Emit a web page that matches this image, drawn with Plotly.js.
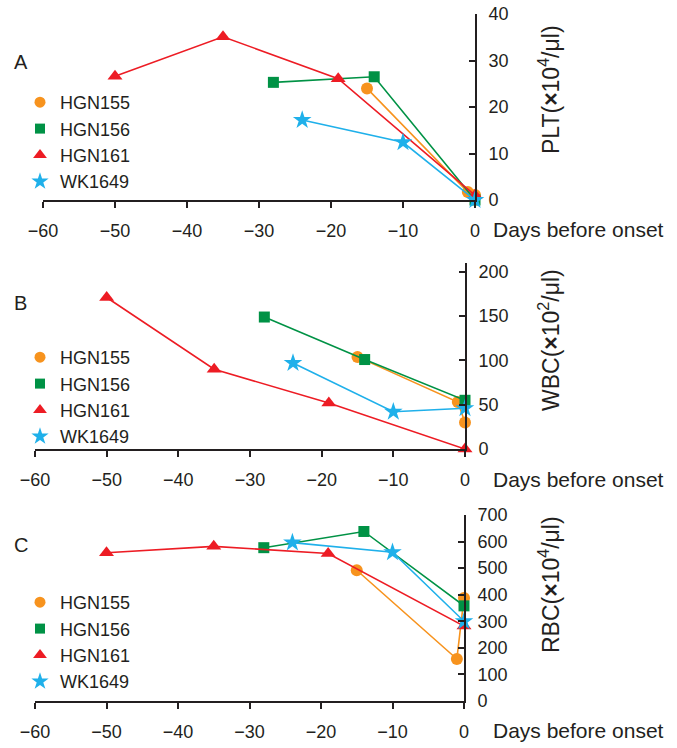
<!DOCTYPE html>
<html>
<head>
<meta charset="utf-8">
<script src="https://cdn.plot.ly/plotly-3.0.1.min.js"></script>
<style>
  html, body { margin: 0; padding: 0; background: #fff; }
  #chart { width: 677px; height: 748px; }
</style>
</head>
<body>
<div id="chart"></div>
<script>
// days before onset (x) and values for each patient, one set per panel
var names = ['HGN155', 'HGN156', 'HGN161', 'WK1649'];

// A: PLT (x10^4/ul)
var pltDays = [
  [-15, -1, 0],
  [-28, -14, 0],
  [-50, -35, -19, 0],
  [-24, -10, 0]
];
var pltVals = [
  [24.0, 1.7, 1.1],
  [25.3, 26.5, 0],
  [26.6, 35.1, 26.1, 1.0],
  [17.2, 12.4, 0]
];

// B: WBC (x10^2/ul)
var wbcDays = [
  [-15, -1, 0],
  [-28, -14, 0],
  [-50, -35, -19, 0],
  [-24, -10, 0]
];
var wbcVals = [
  [104, 53, 30],
  [149, 101, 55],
  [171, 90, 52, 0],
  [97, 42, 46]
];

// C: RBC (x10^4/ul)
var rbcDays = [
  [-15, -1, 0],
  [-28, -14, 0],
  [-50, -35, -19, 0],
  [-24, -10, 0]
];
var rbcVals = [
  [492, 158, 388],
  [577, 638, 358],
  [558, 582, 555, 282],
  [596, 560, 300]
];

var colors = ['#f7931e', '#009245', '#ed1c24', '#1fb0ea'];
var symbols = ['circle', 'square', 'triangle-up', 'star'];
var sizes = [12, 11, 13, 14];

var fontFam = '"Liberation Sans", Arial, sans-serif';
var ink = '#231f20';

var traces = [];
function addPanel(days, vals, n) {
  var sfx = n === 1 ? '' : String(n);
  for (var i = 0; i < names.length; i++) {
    traces.push({
      x: days[i], y: vals[i],
      xaxis: 'x' + sfx, yaxis: 'y' + sfx,
      type: 'scatter', mode: 'lines+markers',
      line: {color: colors[i], width: 1.6},
      marker: {color: colors[i], symbol: symbols[i], size: sizes[i]},
      cliponaxis: false,
      showlegend: false,
      hoverinfo: 'skip'
    });
  }
  // legend entries (markers only)
  for (var j = 0; j < names.length; j++) {
    traces.push({
      x: [null], y: [null],
      xaxis: 'x' + sfx, yaxis: 'y' + sfx,
      type: 'scatter', mode: 'markers', name: names[j],
      marker: {color: colors[j], symbol: symbols[j], size: sizes[j] - 1},
      legend: n === 1 ? 'legend' : 'legend' + n,
      showlegend: true
    });
  }
}
addPanel(pltDays, pltVals, 1);
addPanel(wbcDays, wbcVals, 2);
addPanel(rbcDays, rbcVals, 3);

function xax(dom, anchor) {
  return {
    domain: dom, anchor: anchor, range: [-60, 0], dtick: 10, tick0: 0,
    showline: true, linecolor: ink, linewidth: 2,
    ticks: 'outside', ticklen: 6, tickwidth: 2, tickcolor: ink,
    ticklabelstandoff: 7,
    showgrid: false, zeroline: false,
    tickfont: {family: fontFam, size: 18, color: ink}
  };
}
function yax(dom, anchor, rng, dt) {
  return {
    domain: dom, anchor: anchor, side: 'right', range: rng, dtick: dt,
    showline: true, linecolor: ink, linewidth: 2,
    ticks: 'inside', ticklen: 6, tickwidth: 2, tickcolor: ink,
    ticklabelstandoff: 8,
    showgrid: false, zeroline: false,
    tickfont: {family: fontFam, size: 18, color: ink}
  };
}

function py(px) { return 1 - px / 748; }
function pxx(px) { return px / 677; }

function legendAt(topPx) {
  return {
    x: pxx(20), y: py(topPx), xanchor: 'left', yanchor: 'top',
    bgcolor: 'rgba(0,0,0,0)', borderwidth: 0,
    font: {family: fontFam, size: 18, color: ink},
    itemclick: false
  };
}

var annots = [
  {text: 'A', x: pxx(12), y: py(62)},
  {text: 'B', x: pxx(12), y: py(303)},
  {text: 'C', x: pxx(12), y: py(545)}
].map(function (a) {
  return {text: a.text, x: a.x, y: a.y, xref: 'paper', yref: 'paper',
    showarrow: false, xanchor: 'left', yanchor: 'middle',
    font: {family: fontFam, size: 20, color: ink}};
});

[229, 479, 730].forEach(function (yy) {
  annots.push({text: 'Days before onset', x: pxx(491), y: py(yy),
    xref: 'paper', yref: 'paper', showarrow: false,
    xanchor: 'left', yanchor: 'middle',
    font: {family: fontFam, size: 21, color: ink}});
});

var ytitles = [
  ['PLT(<b>×</b>10<sup>4</sup>/μl)', 90],
  ['WBC(<b>×</b>10<sup>2</sup>/μl)', 340],
  ['RBC(<b>×</b>10<sup>4</sup>/μl)', 585]
];
ytitles.forEach(function (t) {
  annots.push({text: t[0], x: pxx(549), y: py(t[1]),
    xref: 'paper', yref: 'paper', showarrow: false, textangle: -90,
    xanchor: 'center', yanchor: 'middle',
    font: {family: fontFam, size: 23, color: ink}});
});

var layout = {
  width: 677, height: 748,
  margin: {l: 0, r: 0, t: 0, b: 0},
  paper_bgcolor: '#fff', plot_bgcolor: 'rgba(0,0,0,0)',
  showlegend: true,
  xaxis: xax([pxx(43), pxx(475)], 'y'),
  yaxis: yax([py(200), py(14)], 'x', [0, 40], 10),
  xaxis2: xax([pxx(35), pxx(465)], 'y2'),
  yaxis2: yax([py(449), py(263)], 'x2', [0, 210], 50),
  xaxis3: xax([pxx(35), pxx(464)], 'y3'),
  yaxis3: yax([py(701), py(515)], 'x3', [0, 700], 100),
  legend: legendAt(84),
  legend2: legendAt(339),
  legend3: legendAt(584),
  annotations: annots
};

Plotly.newPlot('chart', traces, layout, {staticPlot: true});
</script>
</body>
</html>
